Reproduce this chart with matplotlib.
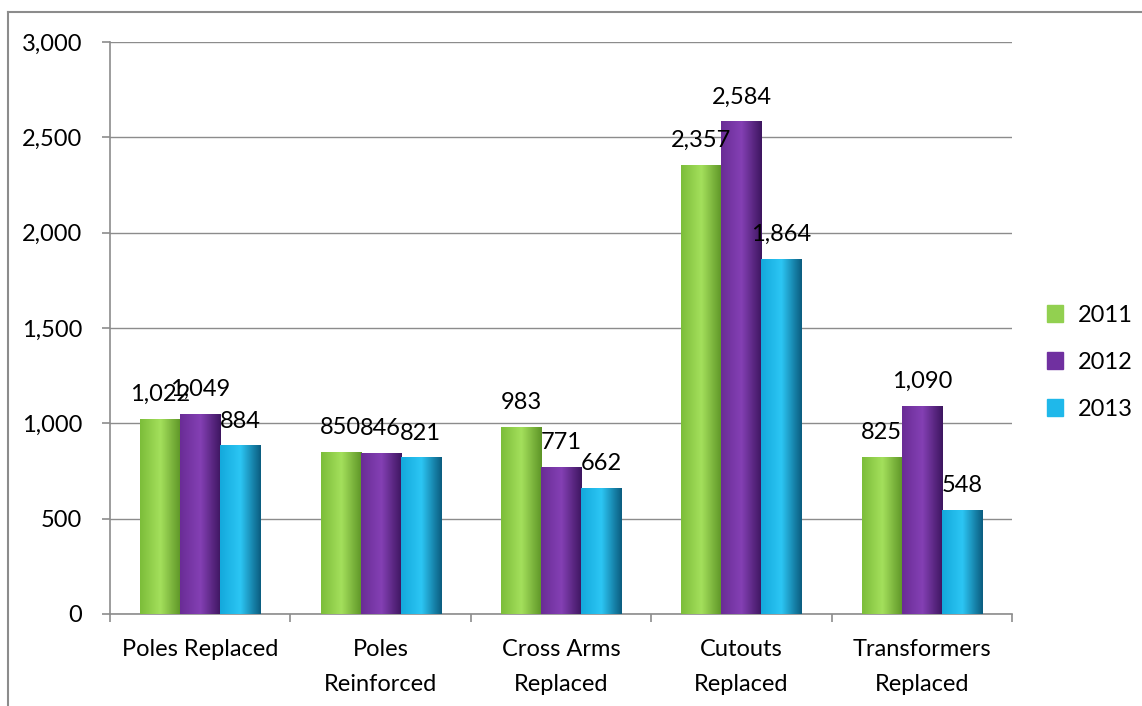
import numpy as np
import matplotlib
matplotlib.use("Agg")
import matplotlib.pyplot as plt
from matplotlib.colors import LinearSegmentedColormap
from matplotlib.lines import Line2D

# --- data
categories = ["Poles Replaced", "Poles\nReinforced", "Cross Arms\nReplaced",
              "Cutouts\nReplaced", "Transformers\nReplaced"]
years = ["2011", "2012", "2013"]
vals_2011 = [1022, 850, 983, 2357, 825]
vals_2012 = [1049, 846, 771, 2584, 1090]
vals_2013 = [884, 821, 662, 1864, 548]
series = [vals_2011, vals_2012, vals_2013]

# shading: left edge, middle, right edge
shades = [
    ["#7cbd3a", "#a4e05c", "#5e9527"],
    ["#6a2c96", "#8440b4", "#3e1660"],
    ["#14a9dc", "#2cc6f4", "#0b5d80"],
]
base_cols = ["#92d050", "#7030a0", "#1fb8ea"]

plt.rcParams['font.family'] = ['Lato', 'DejaVu Sans']
grey = "#8c8c8c"
fs = 17

fig = plt.figure(figsize=(11.42, 7.06), dpi=100)
ax = fig.add_axes([110/1142, 92/706, 902/1142, 572/706])

x = np.arange(len(categories))
w = 0.222
grad = np.linspace(0, 1, 64).reshape(1, -1)

for i, vals in enumerate(series):
    pos = x + (i - 1) * w
    bars = ax.bar(pos, vals, width=w, color=base_cols[i], zorder=3,
                  edgecolor="none")
    cmap = LinearSegmentedColormap.from_list("s%d" % i, shades[i])
    for b, v in zip(bars, vals):
        x0, y0 = b.get_x(), b.get_y()
        im = ax.imshow(grad, cmap=cmap, aspect="auto", zorder=3.5,
                       extent=[x0, x0 + b.get_width(), y0, y0 + b.get_height()])
        im.set_clip_path(b)
        ax.annotate(f"{v:,}", (b.get_x() + b.get_width() / 2, v),
                    xytext=(0, 10), textcoords="offset points",
                    ha="center", va="bottom", fontsize=fs, zorder=5)

ax.set_xlim(-0.5, len(categories) - 0.5)
ax.set_ylim(0, 3000)
ax.set_yticks(np.arange(0, 3001, 500))
ax.yaxis.set_major_formatter(matplotlib.ticker.FuncFormatter(lambda v, p: f"{int(v):,}"))
ax.grid(axis="y", color=grey, lw=1, zorder=0)
ax.set_axisbelow(True)

ax.set_xticks(x)
ax.set_xticklabels(categories, fontsize=fs, linespacing=1.85)
ax.set_xticks(np.arange(-0.5, len(categories)), minor=True)
ax.tick_params(axis="x", which="major", length=0, pad=18)
ax.tick_params(axis="x", which="minor", length=6, color=grey, width=1.2)
ax.tick_params(axis="y", length=6, color=grey, width=1.2, pad=14, labelsize=fs)

for s in ["top", "right"]:
    ax.spines[s].set_visible(False)
for s in ["left", "bottom"]:
    ax.spines[s].set_color(grey)
    ax.spines[s].set_linewidth(1.2)

handles = [plt.Rectangle((0, 0), 1, 1, color=c) for c in base_cols]
ax.legend(handles, years, loc="center left", bbox_to_anchor=(1.015, 0.44),
          frameon=False, fontsize=fs, handlelength=0.7, handleheight=0.7,
          handletextpad=0.6, labelspacing=1.1)

# chart frame (top and left edges visible)
fig.add_artist(Line2D([8/1142, 1], [1 - 12/706, 1 - 12/706], color=grey, lw=1.5))
fig.add_artist(Line2D([8/1142, 8/1142], [0, 1 - 12/706], color=grey, lw=1.5))

fig.savefig("out.png", dpi=100)
